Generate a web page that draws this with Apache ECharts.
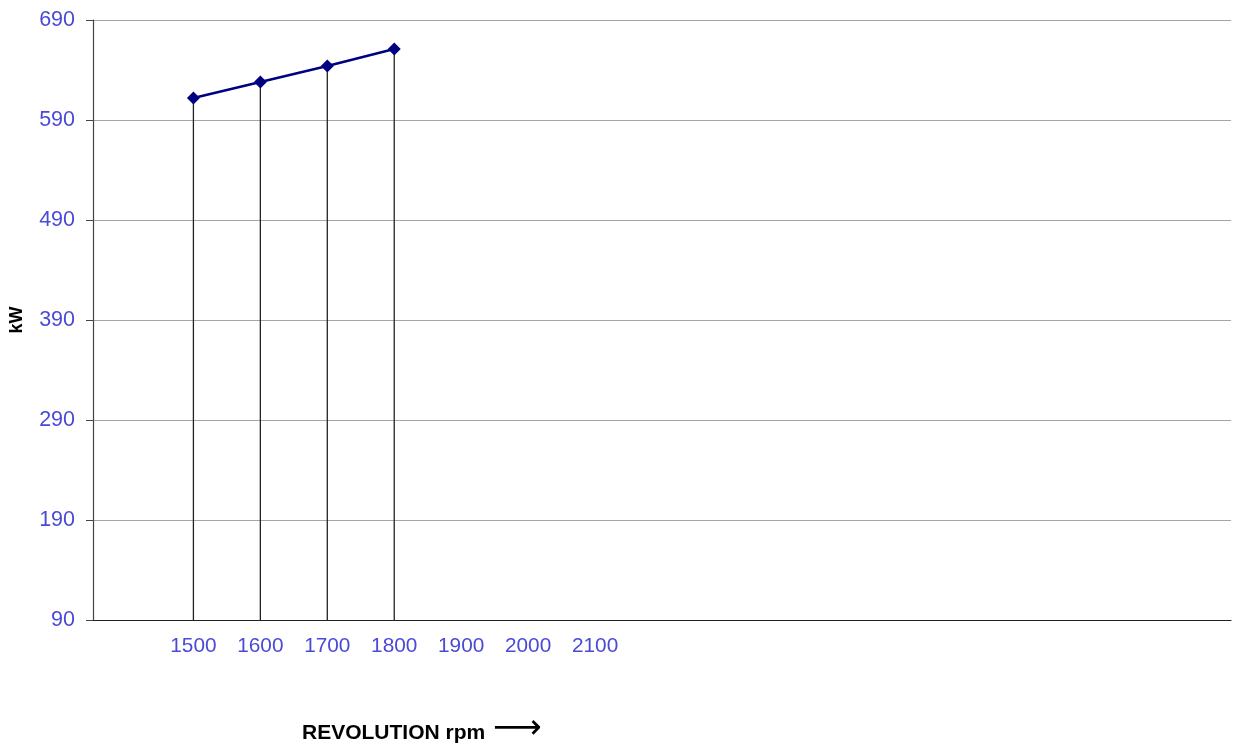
<!DOCTYPE html>
<html>
<head>
<meta charset="utf-8">
<script src="https://cdn.jsdelivr.net/npm/echarts@6/dist/echarts.min.js"></script>
<style>html,body{margin:0;padding:0;background:#fff;}#c{width:1234px;height:747px;}</style>
</head>
<body>
<div id="c"></div>
<script>
// Data
const rpmLabels = ['1500', '1600', '1700', '1800', '1900', '2000', '2100'];
const powerKW = [612, 628, 644, 661];
const yTicks = [90, 190, 290, 390, 490, 590, 690];
const xTitle = 'REVOLUTION rpm';
const xTitleArrow = '⟶';
const yTitle = 'kW';
const leadingEmpty = 1;
const trailingEmpty = 9;

const categories = [];
for (let i = 0; i < leadingEmpty; i++) categories.push('');
rpmLabels.forEach(r => categories.push(r));
for (let i = 0; i < trailingEmpty; i++) categories.push(' '.repeat(i + 1));

const seriesData = categories.map((c, i) => {
  const k = i - leadingEmpty;
  return (k >= 0 && k < powerKW.length) ? powerKW[k] : null;
});

const labelColor = '#4a4ad6';
const chart = echarts.init(document.getElementById('c'));
chart.setOption({
  animation: false,
  grid: { left: 93, right: 3, top: 20, bottom: 127, containLabel: false, outerBoundsMode: 'none' },
  xAxis: {
    type: 'category',
    data: categories,
    boundaryGap: true,
    axisLine: { lineStyle: { color: '#222', width: 1.2 } },
    axisTick: { show: false },
    axisLabel: { color: labelColor, fontSize: 20.8, fontFamily: 'Liberation Sans, Arial', margin: 16, interval: 0 },
    splitLine: { show: false }
  },
  yAxis: {
    type: 'value',
    min: 90,
    max: 690,
    name: yTitle,
    nameLocation: 'middle',
    nameRotate: 90,
    nameGap: 67,
    nameTextStyle: { color: '#000', fontSize: 18, fontWeight: 'bold', fontFamily: 'Liberation Sans, Arial' },
    axisLine: { show: true, lineStyle: { color: '#444', width: 1.2 } },
    axisTick: { show: true, inside: false, length: 7, lineStyle: { color: '#444' }, customValues: yTicks },
    axisLabel: { color: labelColor, fontSize: 21.5, fontFamily: 'Liberation Sans, Arial', margin: 18, customValues: yTicks },
    splitLine: { show: true, lineStyle: { color: '#a6a6a6', width: 1.2 } }
  },
  graphic: [
    {
      type: 'text',
      x: 302,
      y: 733,
      style: {
        text: xTitle,
        fill: '#000',
        font: 'bold 21px "Liberation Sans", Arial',
        verticalAlign: 'middle',
        align: 'left'
      }
    },
    {
      type: 'text',
      x: 493,
      y: 729,
      style: {
        text: xTitleArrow,
        fill: '#000',
        font: '34px "DejaVu Sans"',
        verticalAlign: 'middle',
        align: 'left'
      }
    }
  ],
  series: [
    {
      type: 'bar',
      data: seriesData,
      barWidth: 1.3,
      itemStyle: { color: '#222' },
      silent: true
    },
    {
      type: 'line',
      data: seriesData,
      connectNulls: false,
      symbol: 'diamond',
      symbolSize: 13,
      lineStyle: { color: '#000080', width: 2.5 },
      itemStyle: { color: '#000080' },
      z: 5
    }
  ]
});
</script>
</body>
</html>
